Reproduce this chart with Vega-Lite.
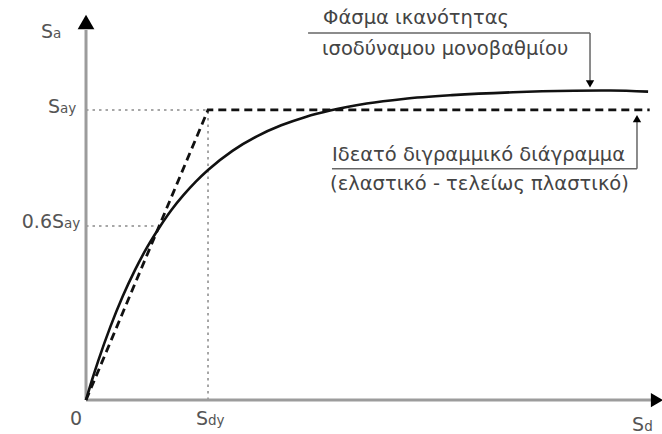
{
  "$schema": "https://vega.github.io/schema/vega-lite/v6.json",
  "width": 662,
  "height": 434,
  "padding": 0,
  "autosize": {"type": "none"},
  "config": {"view": {"stroke": null}, "text": {"font": "DejaVu Sans"}},
  "datasets": {
    "curve": [
      {"x": 0, "y": 0}, {"x": 0.05, "y": 0.07}, {"x": 0.1, "y": 0.135}, {"x": 0.2, "y": 0.253},
      {"x": 0.3, "y": 0.357}, {"x": 0.4, "y": 0.447}, {"x": 0.5, "y": 0.526}, {"x": 0.6, "y": 0.594},
      {"x": 0.7, "y": 0.655}, {"x": 0.8, "y": 0.707}, {"x": 0.9, "y": 0.753}, {"x": 1.0, "y": 0.793},
      {"x": 1.2, "y": 0.859}, {"x": 1.4, "y": 0.909}, {"x": 1.6, "y": 0.947}, {"x": 1.8, "y": 0.976},
      {"x": 2.0, "y": 0.998}, {"x": 2.3, "y": 1.022}, {"x": 2.6, "y": 1.038}, {"x": 3.0, "y": 1.051},
      {"x": 3.5, "y": 1.061}, {"x": 4.0, "y": 1.066}, {"x": 4.3, "y": 1.067}, {"x": 4.607, "y": 1.063}
    ],
    "bilinear": [{"x": 0, "y": 0}, {"x": 1, "y": 1}, {"x": 4.62, "y": 1}],
    "guides": [
      {"x": 0, "x2": 1, "y": 1, "y2": 1},
      {"x": 1, "x2": 1, "y": 0, "y2": 1},
      {"x": 0, "x2": 0.57, "y": 0.6, "y2": 0.6}
    ],
    "axes": [
      {"x": 0, "x2": 0, "y": 0, "y2": 1.276},
      {"x": 0, "x2": 4.63, "y": 0, "y2": 0}
    ],
    "leaders": [
      {"x": 1.82, "x2": 4.131, "y": 1.2655, "y2": 1.2655},
      {"x": 4.131, "x2": 4.131, "y": 1.2655, "y2": 1.1},
      {"x": 2.016, "x2": 4.516, "y": 0.797, "y2": 0.797},
      {"x": 4.516, "x2": 4.516, "y": 0.797, "y2": 0.96}
    ],
    "notes": [
      {"x": 1.943, "y": 1.297, "label": "Φάσμα ικανότητας"},
      {"x": 1.934, "y": 1.19, "label": "ισοδύναμου μονοβαθμίου"},
      {"x": 2.016, "y": 0.824, "label": "Ιδεατό διγραμμικό διάγραμμα"},
      {"x": 2.0, "y": 0.724, "label": "(ελαστικό - τελείως πλαστικό)"}
    ],
    "ticks": [
      {"x": -0.27, "y": 1.248, "main": "S", "sub": "a"},
      {"x": -0.213, "y": 0.99, "main": "S", "sub": "ay"},
      {"x": -0.18, "y": 0.593, "main": "0.6S", "sub": "ay"},
      {"x": -0.033, "y": -0.086, "main": "0", "sub": ""},
      {"x": 1.0, "y": -0.086, "main": "S", "sub": "dy"},
      {"x": 4.575, "y": -0.105, "main": "S", "sub": "d"}
    ]
  },
  "encoding": {
    "x": {"field": "x", "type": "quantitative", "axis": null, "scale": {"domain": [-0.705, 4.721], "zero": false, "nice": false}},
    "y": {"field": "y", "type": "quantitative", "axis": null, "scale": {"domain": [-0.117, 1.379], "zero": false, "nice": false}}
  },
  "layer": [
    {
      "data": {"name": "guides"},
      "mark": {"type": "rule", "color": "#8a8a8a", "strokeWidth": 1.5, "strokeDash": [2.5, 4]},
      "encoding": {"x2": {"field": "x2"}, "y2": {"field": "y2"}}
    },
    {
      "data": {"name": "axes"},
      "mark": {"type": "rule", "color": "#9c9c9c", "strokeWidth": 3},
      "encoding": {"x2": {"field": "x2"}, "y2": {"field": "y2"}}
    },
    {
      "data": {"values": [{"x": 0, "y": 1.303}]},
      "mark": {"type": "point", "shape": "triangle-up", "filled": true, "color": "#000", "opacity": 1, "size": 280}
    },
    {
      "data": {"values": [{"x": 4.68, "y": 0}]},
      "mark": {"type": "point", "shape": "triangle-right", "filled": true, "color": "#000", "opacity": 1, "size": 200}
    },
    {
      "data": {"name": "leaders"},
      "mark": {"type": "rule", "color": "#666", "strokeWidth": 1.5},
      "encoding": {"x2": {"field": "x2"}, "y2": {"field": "y2"}}
    },
    {
      "data": {"values": [{"x": 4.131, "y": 1.09}]},
      "mark": {"type": "point", "shape": "triangle-down", "filled": true, "color": "#000", "opacity": 1, "size": 70}
    },
    {
      "data": {"values": [{"x": 4.516, "y": 0.97}]},
      "mark": {"type": "point", "shape": "triangle-up", "filled": true, "color": "#000", "opacity": 1, "size": 70}
    },
    {
      "data": {"name": "bilinear"},
      "mark": {"type": "line", "color": "#111", "strokeWidth": 2.8, "strokeDash": [8, 5]}
    },
    {
      "data": {"name": "curve"},
      "mark": {"type": "line", "color": "#111", "strokeWidth": 2.6, "interpolate": "monotone"}
    },
    {
      "data": {"name": "notes"},
      "mark": {"type": "text", "align": "left", "baseline": "alphabetic", "fontSize": 19.5, "color": "#444"},
      "encoding": {"text": {"field": "label"}}
    },
    {
      "data": {"name": "ticks"},
      "mark": {"type": "text", "align": "right", "baseline": "alphabetic", "fontSize": 19, "color": "#555"},
      "encoding": {"text": {"field": "main"}}
    },
    {
      "data": {"name": "ticks"},
      "mark": {"type": "text", "align": "left", "baseline": "alphabetic", "fontSize": 13.5, "color": "#555"},
      "encoding": {"text": {"field": "sub"}}
    }
  ]
}
